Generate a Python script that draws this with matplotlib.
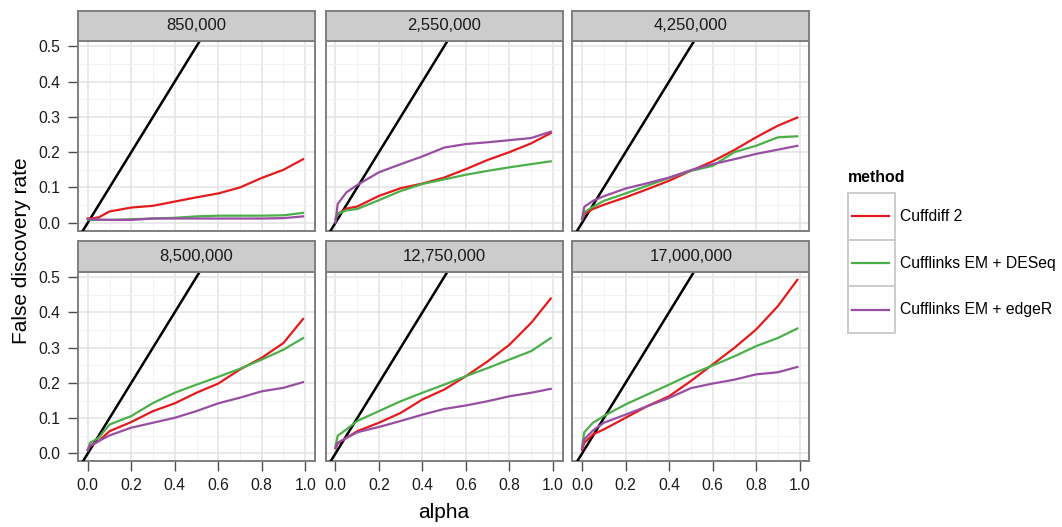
import numpy as np
import matplotlib
matplotlib.use('Agg')
import matplotlib.pyplot as plt
from matplotlib.patches import Rectangle
from matplotlib.lines import Line2D

plt.rcParams['font.family'] = ['Liberation Sans', 'DejaVu Sans']

# data
panels = ['850,000', '2,550,000', '4,250,000', '8,500,000', '12,750,000', '17,000,000']
methods = ['Cuffdiff 2', 'Cufflinks EM + DESeq', 'Cufflinks EM + edgeR']
colors = ['#E41A1C', '#4DAF4A', '#984EA3']

alpha = [0, 0.01, 0.05, 0.1, 0.2, 0.3, 0.4, 0.5, 0.6, 0.7, 0.8, 0.9, 0.99]

cuffdiff = [
    [0.012, 0.012, 0.015, 0.032, 0.043, 0.048, 0.060, 0.072, 0.083, 0.100, 0.127, 0.150, 0.180],
    [0.010, 0.025, 0.040, 0.046, 0.076, 0.098, 0.111, 0.128, 0.152, 0.178, 0.200, 0.225, 0.254],
    [0.010, 0.025, 0.039, 0.051, 0.072, 0.095, 0.119, 0.147, 0.174, 0.206, 0.242, 0.275, 0.298],
    [0.010, 0.020, 0.035, 0.063, 0.089, 0.120, 0.142, 0.172, 0.198, 0.238, 0.271, 0.313, 0.381],
    [0.015, 0.028, 0.044, 0.063, 0.087, 0.115, 0.153, 0.181, 0.219, 0.261, 0.308, 0.370, 0.439],
    [0.010, 0.030, 0.054, 0.068, 0.101, 0.134, 0.162, 0.205, 0.252, 0.299, 0.351, 0.417, 0.492],
]
deseq = [
    [0.010, 0.008, 0.008, 0.008, 0.010, 0.012, 0.014, 0.018, 0.020, 0.020, 0.020, 0.021, 0.028],
    [0.010, 0.025, 0.035, 0.039, 0.064, 0.090, 0.110, 0.123, 0.136, 0.147, 0.157, 0.166, 0.174],
    [0.010, 0.030, 0.045, 0.062, 0.083, 0.105, 0.127, 0.147, 0.161, 0.200, 0.218, 0.242, 0.245],
    [0.010, 0.030, 0.044, 0.082, 0.106, 0.143, 0.172, 0.195, 0.217, 0.240, 0.266, 0.294, 0.327],
    [0.020, 0.050, 0.068, 0.092, 0.120, 0.148, 0.172, 0.195, 0.219, 0.242, 0.266, 0.290, 0.327],
    [0.020, 0.060, 0.087, 0.106, 0.139, 0.167, 0.195, 0.224, 0.249, 0.275, 0.304, 0.327, 0.354],
]
edger = [
    [0.010, 0.010, 0.009, 0.008, 0.008, 0.012, 0.012, 0.012, 0.012, 0.012, 0.012, 0.013, 0.018],
    [0.000, 0.053, 0.086, 0.107, 0.143, 0.166, 0.188, 0.213, 0.223, 0.228, 0.234, 0.240, 0.258],
    [0.010, 0.045, 0.062, 0.075, 0.097, 0.112, 0.128, 0.149, 0.166, 0.180, 0.195, 0.207, 0.218],
    [0.010, 0.022, 0.035, 0.051, 0.073, 0.087, 0.101, 0.120, 0.142, 0.158, 0.176, 0.186, 0.202],
    [0.015, 0.030, 0.044, 0.060, 0.075, 0.092, 0.110, 0.126, 0.136, 0.148, 0.162, 0.172, 0.183],
    [0.015, 0.040, 0.065, 0.087, 0.110, 0.134, 0.157, 0.185, 0.198, 0.209, 0.224, 0.230, 0.245],
]
series = [cuffdiff, deseq, edger]

W, H = 1062, 527
fig = plt.figure(figsize=(W / 100, H / 100), dpi=100)

col_left = [78, 325.7, 572.3]
pw = 237
row_top = [41, 271.7]
ph = 189.5
strip_h = 31

def fx(px):
    return px / W

def fy(py):
    return 1 - py / H

for i, name in enumerate(panels):
    r, c = divmod(i, 3)
    x0 = col_left[c]
    y0 = row_top[r]
    ax = fig.add_axes([fx(x0), fy(y0 + ph), pw / W, ph / H])
    ax.set_xlim(-0.045, 1.045)
    ax.set_ylim(-0.022, 0.515)
    ax.set_xticks([0, 0.2, 0.4, 0.6, 0.8, 1.0])
    ax.set_xticks([0.1, 0.3, 0.5, 0.7, 0.9], minor=True)
    ax.set_yticks([0, 0.1, 0.2, 0.3, 0.4, 0.5])
    ax.set_yticks([0.05, 0.15, 0.25, 0.35, 0.45], minor=True)
    ax.grid(True, which='major', color='#E3E3E3', lw=1.1)
    ax.grid(True, which='minor', color='#F2F2F2', lw=0.7)
    ax.set_axisbelow(True)
    for sp in ax.spines.values():
        sp.set_color('#7F7F7F')
        sp.set_linewidth(1.4)
    ax.tick_params(which='minor', length=0)
    ax.tick_params(which='major', length=7.5, color='#4D4D4D', width=1,
                   labelsize=11.3, labelcolor='#1A1A1A')
    ax.tick_params(axis='x', pad=4.5)
    ax.tick_params(axis='y', pad=5.5)
    if c != 0:
        ax.tick_params(axis='y', length=0, labelleft=False)
    else:
        ax.set_yticklabels(['0.0', '0.1', '0.2', '0.3', '0.4', '0.5'])
    if r != 1:
        ax.tick_params(axis='x', length=0, labelbottom=False)
    else:
        ax.set_xticklabels(['0.0', '0.2', '0.4', '0.6', '0.8', '1.0'])

    ax.axline((0, 0), slope=1, color='black', lw=1.8, zorder=3)
    for k in range(3):
        ax.plot(alpha, series[k][i], color=colors[k], lw=1.6, zorder=4)

    # strip
    sax = fig.add_axes([fx(x0), fy(y0), pw / W, (strip_h - 0.5) / H])
    sax.set_facecolor('#CCCCCC')
    sax.set_xticks([])
    sax.set_yticks([])
    for sp in sax.spines.values():
        sp.set_color('#7F7F7F')
        sp.set_linewidth(1.4)
    sax.text(0.5, 0.5, name, ha='center', va='center', fontsize=12,
             color='#1A1A1A', transform=sax.transAxes)

fig.text(fx(22), fy(250.5), 'False discovery rate', rotation=90,
         ha='center', va='center', fontsize=15)
fig.text(fx(443.5), fy(512), 'alpha', ha='center', va='center', fontsize=15)

# legend
fig.text(fx(848), fy(177), 'method', fontweight='bold', fontsize=11.4,
         ha='left', va='center')
key_top = 193
key_h = 46.7
for k, m in enumerate(methods):
    top = key_top + k * key_h
    rect = Rectangle((fx(848), fy(top + key_h)), 47 / W, key_h / H,
                     transform=fig.transFigure, facecolor='white',
                     edgecolor='#CCCCCC', lw=1.4)
    fig.patches.append(rect)
    yc = fy(top + key_h / 2)
    fig.lines.append(Line2D([fx(852), fx(889)], [yc, yc], color=colors[k],
                            lw=1.6, transform=fig.transFigure))
    fig.text(fx(900), yc, m, fontsize=11.3, ha='left', va='center')

fig.savefig('out.png', dpi=100)
